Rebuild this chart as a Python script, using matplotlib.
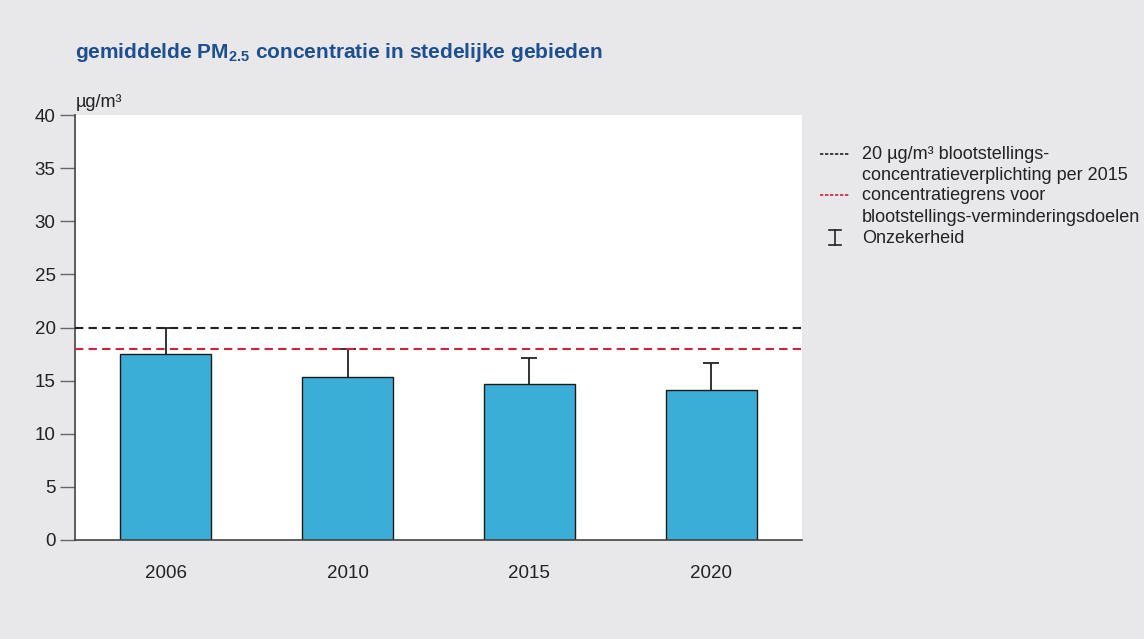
import matplotlib.pyplot as plt
from matplotlib.lines import Line2D

plt.rcParams['font.family'] = ['Liberation Sans', 'DejaVu Sans']
plt.rcParams['mathtext.fontset'] = 'custom'
plt.rcParams['mathtext.rm'] = 'Liberation Sans'
plt.rcParams['mathtext.bf'] = 'Liberation Sans:bold'

# data
jaren = ['2006', '2010', '2015', '2020']
pm25 = [17.5, 15.3, 14.7, 14.1]
onzekerheid = [2.5, 2.7, 2.4, 2.55]
norm_20 = 20
grens = 18

bg = '#e8e8ea'
fig = plt.figure(figsize=(11.44, 6.39), dpi=100, facecolor=bg)
ax = fig.add_axes([75 / 1144, 1 - 540 / 639, 727 / 1144, 425 / 639])
ax.set_facecolor('white')

x = range(len(jaren))
ax.errorbar(x, pm25, yerr=onzekerheid, fmt='none', ecolor='#222222',
            elinewidth=1.3, capsize=6, capthick=1.3, zorder=1)
ax.bar(x, pm25, width=0.5, color='#3aaed6', edgecolor='#1a1a1a',
       linewidth=1.0, zorder=2)
ax.axhline(norm_20, color='#222222', ls=(0, (4, 2.5)), lw=1.5, zorder=3)
ax.axhline(grens, color='#d2233c', ls=(0, (4, 2.5)), lw=1.5, zorder=3)

ax.set_xlim(-0.5, 3.5)
ax.set_ylim(0, 40)
ax.set_yticks(range(0, 41, 5))
ax.set_xticks(list(x))
ax.set_xticklabels(jaren)
ax.tick_params(axis='x', length=0, pad=18, labelsize=13.5, labelcolor='#222222')
ax.tick_params(axis='y', length=11, width=1, color='#666666', pad=3,
               labelsize=13.5, labelcolor='#222222')
for s in ['top', 'right']:
    ax.spines[s].set_visible(False)
for s in ['left', 'bottom']:
    ax.spines[s].set_color('#444444')
    ax.spines[s].set_linewidth(1.2)

def fy(py):
    return 1 - py / 639

# titel en eenheid
fig.text(75 / 1144, fy(58),
         r'gemiddelde PM$_\mathbf{2.5}$ concentratie in stedelijke gebieden',
         fontsize=15, fontweight='bold', color='#1d4f91', va='baseline')
fig.text(76 / 1144, fy(107), 'µg/m³', fontsize=13, color='#222222',
         va='baseline')

# legenda
tx = 862 / 1144
fs = 13

fig.add_artist(Line2D([820 / 1144, 849 / 1144], [fy(154), fy(154)],
                      color='#222222', ls=(0, (2, 1)), lw=1.2))
fig.add_artist(Line2D([820 / 1144, 849 / 1144], [fy(195), fy(195)],
                      color='#d2233c', ls=(0, (2, 1)), lw=1.2))
fig.add_artist(Line2D([835 / 1144, 835 / 1144], [fy(230), fy(245)],
                      color='#222222', lw=1.2))
fig.add_artist(Line2D([829 / 1144, 841 / 1144], [fy(230), fy(230)],
                      color='#222222', lw=1.2))
fig.add_artist(Line2D([829 / 1144, 841 / 1144], [fy(245), fy(245)],
                      color='#222222', lw=1.2))

fig.text(tx, fy(155), '20 µg/m³ blootstellings-', fontsize=fs,
         color='#222222', va='center')
fig.text(tx, fy(175), 'concentratieverplichting per 2015', fontsize=fs,
         color='#222222', va='center')
fig.text(tx, fy(196), 'concentratiegrens voor', fontsize=fs,
         color='#222222', va='center')
fig.text(tx, fy(217), 'blootstellings-verminderingsdoelen', fontsize=fs,
         color='#222222', va='center')
fig.text(tx, fy(238), 'Onzekerheid', fontsize=fs, color='#222222',
         va='center')

fig.savefig('out.png', dpi=100, facecolor=bg)
